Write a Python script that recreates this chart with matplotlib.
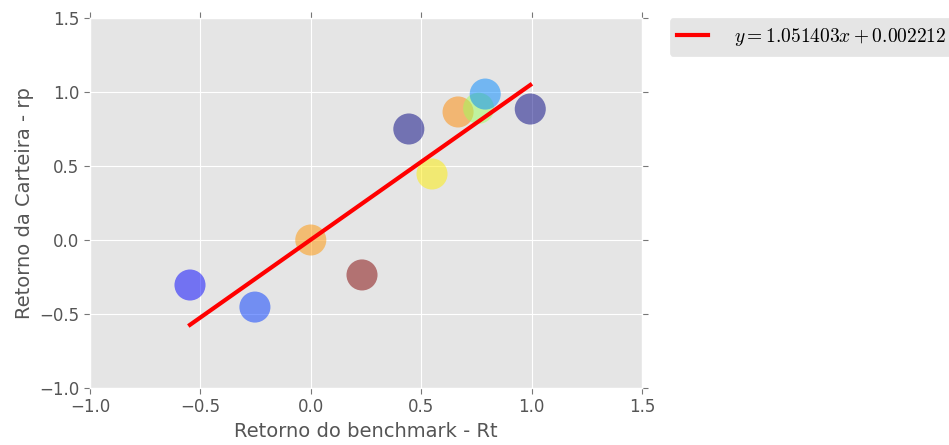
import numpy as np
import matplotlib
matplotlib.use('Agg')
import matplotlib.pyplot as plt

plt.style.use('ggplot')
plt.rcParams['mathtext.fontset'] = 'cm'

# retornos (benchmark x carteira)
rt = [-0.547, -0.253, 0.0, 0.232, 0.444, 0.549, 0.667, 0.76, 0.79, 0.994]
rp = [-0.304, -0.453, 0.0, -0.236, 0.75, 0.446, 0.865, 0.89, 0.986, 0.885]
cores = [0.11, 0.18, 0.75, 1.0, 0.0, 0.66, 0.765, 0.54, 0.26, 0.0]

beta = 1.051403
alfa = 0.002212

fig = plt.figure(figsize=(9.49, 4.45), dpi=100)
ax = fig.add_axes([0.0948, 0.128, 0.5817, 0.8316])

ax.scatter(rt, rp, c=cores, cmap='jet', vmin=0, vmax=1, s=500, alpha=0.5, linewidths=0)

xl = np.array([min(rt), max(rt)])
ax.plot(xl, beta * xl + alfa, color='red', lw=3,
        label=r'$y = {:f}x + {:f}$'.format(beta, alfa))

ax.set_xlim(-1.0, 1.5)
ax.set_ylim(-1.0, 1.5)
ax.set_xticks([-1.0, -0.5, 0.0, 0.5, 1.0, 1.5])
ax.set_yticks([-1.0, -0.5, 0.0, 0.5, 1.0, 1.5])
ax.tick_params(axis='both', which='both', direction='out', top=True, right=True,
               labelsize=12, length=4, color='#777777', labelcolor='#555555')
ax.set_xlabel('Retorno do benchmark - Rt', fontsize=14, color='#555555')
ax.set_ylabel('Retorno da Carteira - rp', fontsize=14, color='#555555')

leg = ax.legend(loc='upper left', bbox_to_anchor=(1.05, 1.0), borderaxespad=0,
                fontsize=14, handlelength=1.6, handletextpad=1.3, frameon=True,
                facecolor='#E5E5E5', edgecolor='#E5E5E5')
leg.get_frame().set_alpha(1)

fig.savefig('out.png', dpi=100)
